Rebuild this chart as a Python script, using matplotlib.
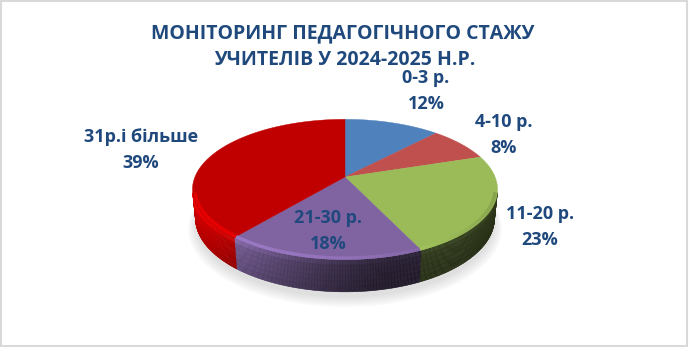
import numpy as np
import matplotlib.pyplot as plt
from matplotlib.collections import PolyCollection, LineCollection
from matplotlib.colors import to_rgb

# teaching experience groups and their share of teachers, %
categories = ["0-3 р.", "4-10 р.", "11-20 р.", "21-30 р.", "31р.і більше"]
shares = [12, 8, 23, 18, 39]
colors = ["#4F81BD", "#C0504D", "#9BBB59", "#8064A2", "#C00000"]
title_lines = ["МОНІТОРИНГ ПЕДАГОГІЧНОГО СТАЖУ", "УЧИТЕЛІВ У 2024-2025 Н.Р."]

# where each data label sits (pixel coords, y down)
label_xy = [(426, 91), (504, 135), (540, 227), (328, 231), (141, 150)]
text_color = "#1F497D"
font = ["Open Sans", "DejaVu Sans"]

# simple perspective camera for the tilted pie
CX, CY = 345, 177
K, DIST, ELEV = 755.0, 5.03, np.radians(26.9)
DEPTH = 0.215


def project(t, z=0.0, r=1.0):
    """Point at angle t (radians) on a disc of radius r, height z -> pixels."""
    X, Y = r * np.cos(t), r * np.sin(t)
    c, s = np.cos(ELEV), np.sin(ELEV)
    yc = Y * s + z * c
    zc = Y * c - z * s + DIST
    return CX + K * X / zc, CY - K * yc / zc


def shade(rgb, f):
    return tuple(np.clip(np.array(rgb) * f, 0, 1))


fig = plt.figure(figsize=(6.89, 3.47), dpi=100)
ax = fig.add_axes([0, 0, 1, 1])
ax.set_xlim(0, 689)
ax.set_ylim(347, 0)
ax.axis("off")

# chart border
ax.add_patch(plt.Rectangle((0.8, 0.8), 686.6, 345.2, fill=False,
                           edgecolor="#D9D9D9", lw=1.5))

# soft shadow under the pie
tt = np.linspace(0, 2 * np.pi, 200)
for k in range(5):
    sx, sy = project(tt, -DEPTH - 0.02, 1.0 + 0.012 * k)
    ax.fill(sx, sy + 3 + k, color="#808080", alpha=0.05, lw=0, zorder=1)

# slice angles: clockwise from 12 o'clock
cum = np.concatenate([[0], np.cumsum(shares)])
starts = 90 - 3.6 * cum[:-1]
ends = 90 - 3.6 * cum[1:]

polys, fcols = [], []
rim_segs, rim_cols = [], []
bands = np.linspace(0, 1, 7)
for a0, a1, col in zip(starts, ends, colors):
    rgb = to_rgb(col)
    steps = np.radians(np.arange(a1, a0 + 0.01, 0.5))
    if steps[-1] < np.radians(a0):
        steps = np.append(steps, np.radians(a0))
    for ta, tb in zip(steps[:-1], steps[1:]):
        tm = 0.5 * (ta + tb)
        # only faces turned towards the camera
        if -1 - DIST * np.cos(ELEV) * np.sin(tm) <= 0:
            continue
        deg = np.degrees(tm) % 360
        light = 0.3 + 0.8 * max(0.0, np.cos(np.radians(deg - 195))) ** 1.5
        for b0, b1 in zip(bands[:-1], bands[1:]):
            fm = 0.5 * (b0 + b1)
            mult = 1.15 if fm < 0.1 else 1.05 - 0.2 * fm
            za, zb = -DEPTH * b0, -DEPTH * b1
            p1 = project(ta, za)
            p2 = project(tb, za)
            p3 = project(tb, zb)
            p4 = project(ta, zb)
            polys.append([p1, p2, p3, p4])
            fcols.append(shade(rgb, light * mult))
        # bevel highlight along the front rim of the top face
        rf = 1 + 0.25 * np.cos(np.radians(deg - 215))
        rim_segs.append([project(ta, 0, 0.985), project(tb, 0, 0.985)])
        rim_cols.append(shade(rgb, rf))

side = PolyCollection(polys, facecolors=fcols, edgecolors=fcols, lw=0.4, zorder=2)
ax.add_collection(side)

# top faces
for a0, a1, col in zip(starts, ends, colors):
    t = np.radians(np.linspace(a1, a0, 120))
    x, y = project(t)
    ax.fill(np.r_[CX, x], np.r_[CY, y], color=col, lw=0.3, ec=col, zorder=3)

ax.add_collection(LineCollection(rim_segs, colors=rim_cols, lw=2.4, zorder=4,
                                 capstyle="butt"))

# data labels
for name, val, (lx, ly) in zip(categories, shares, label_xy):
    ax.text(lx, ly - 13, name, ha="center", va="center", fontsize=13,
            fontweight="bold", color=text_color, family=font, zorder=5)
    ax.text(lx, ly + 13, f"{val}%", ha="center", va="center", fontsize=13,
            fontweight="bold", color=text_color, family=font, zorder=5)

# title
ax.text(343, 33, title_lines[0], ha="center", va="center", fontsize=14,
        fontweight="bold", color=text_color, family=font)
ax.text(345, 60, title_lines[1], ha="center", va="center", fontsize=14,
        fontweight="bold", color=text_color, family=font)

fig.savefig("out.png", dpi=100)
